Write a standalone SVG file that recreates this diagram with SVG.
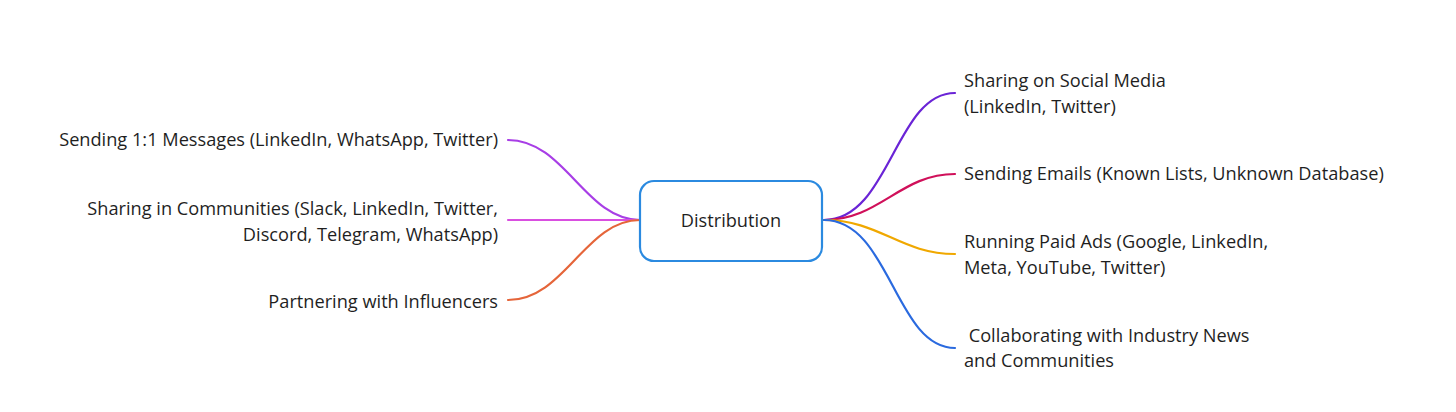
<svg xmlns="http://www.w3.org/2000/svg" width="1456" height="412" viewBox="0 0 1456 412">
<style>
text{font-family:"Open Sans","Noto Sans","Liberation Sans",sans-serif;font-size:18.2px;fill:#1f1f1f}
.l{text-anchor:end}
.c{fill:none;stroke-width:2.2;stroke-linecap:round}
</style>
<rect width="1456" height="412" fill="#ffffff"/>
<g id="connectors">
<path class="c" stroke="#a83ee6" d="M640,220 C585,220 565,140 508,140"/>
<path class="c" stroke="#d94fe0" d="M640,220 L508,220"/>
<path class="c" stroke="#e5653a" d="M640,220 C585,220 565,300 508,300"/>
<path class="c" stroke="#6a24d6" d="M824,220 C890,220 895,93 955,93"/>
<path class="c" stroke="#d0105a" d="M824,220 C880,220 900,174 955,174"/>
<path class="c" stroke="#f0a800" d="M824,220 C880,220 900,254 955,254"/>
<path class="c" stroke="#2a6adf" d="M824,220 C890,220 895,348 955,348"/>
</g>
<g id="center">
<rect x="640" y="181" width="182" height="80" rx="14" fill="#ffffff" stroke="#2b8ae0" stroke-width="2.2"/>
<text x="731" y="227" text-anchor="middle">Distribution</text>
</g>
<g id="n-messages"><text class="l" x="498" y="146">Sending 1:1 Messages (LinkedIn, WhatsApp, Twitter)</text></g>
<g id="n-communities"><text class="l" x="498" y="215">Sharing in Communities (Slack, LinkedIn, Twitter,</text><text class="l" x="498" y="241">Discord, Telegram, WhatsApp)</text></g>
<g id="n-influencers"><text class="l" x="498" y="308">Partnering with Influencers</text></g>
<g id="n-social"><text x="964" y="87">Sharing on Social Media</text><text x="964" y="113">(LinkedIn, Twitter)</text></g>
<g id="n-emails"><text x="964" y="180">Sending Emails (Known Lists, Unknown Database)</text></g>
<g id="n-ads"><text x="964" y="248">Running Paid Ads (Google, LinkedIn,</text><text x="964" y="274">Meta, YouTube, Twitter)</text></g>
<g id="n-news"><text x="964" y="342" xml:space="preserve"> Collaborating with Industry News</text><text x="964" y="367">and Communities</text></g>
</svg>
